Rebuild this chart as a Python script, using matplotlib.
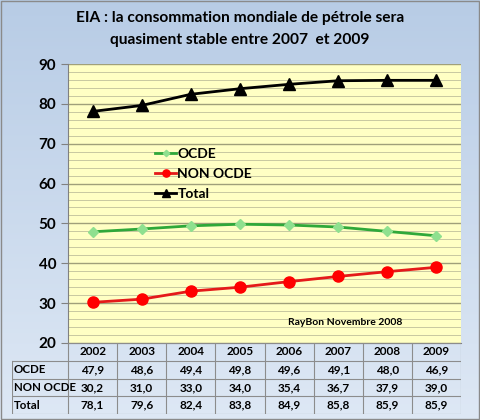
import matplotlib
matplotlib.use('Agg')
import matplotlib.pyplot as plt
import numpy as np

plt.rcParams['font.family'] = ['Lato', 'DejaVu Sans']

years = ['2002', '2003', '2004', '2005', '2006', '2007', '2008', '2009']
ocde = [47.9, 48.6, 49.4, 49.8, 49.6, 49.1, 48.0, 46.9]
non_ocde = [30.2, 31.0, 33.0, 34.0, 35.4, 36.7, 37.9, 39.0]
total = [78.1, 79.6, 82.4, 83.8, 84.9, 85.8, 85.9, 85.9]
row_names = ['OCDE', 'NON OCDE', 'Total']

W, H = 480, 420
fig = plt.figure(figsize=(W / 100, H / 100), dpi=100)

# background gradient
bg = fig.add_axes([0, 0, 1, 1], zorder=-10)
grad = np.linspace(0, 1, 256).reshape(-1, 1)
top_c = np.array([0.72, 0.80, 0.90])
bot_c = np.array([0.87, 0.91, 0.96])
img = top_c + (bot_c - top_c) * grad[..., None]
bg.imshow(img, aspect='auto', extent=[0, 1, 0, 1])
bg.add_patch(plt.Rectangle((0.002, 0.002), 0.996, 0.995, fill=False,
                           edgecolor='#8a8a8a', linewidth=1))
bg.set_xlim(0, 1)
bg.set_ylim(0, 1)
bg.axis('off')

# main plot area
x0, x1 = 68, 461
y_top, y_bot = 64, 343
ax = fig.add_axes([x0 / W, 1 - y_bot / H, (x1 - x0) / W, (y_bot - y_top) / H])
ax.set_facecolor('#ffffc4')
x = np.arange(len(years))

ax.plot(x, ocde, '-D', color='#2fa83a', markerfacecolor='#8fe08f',
        markeredgecolor='#8fe08f', markersize=5, linewidth=2, label='OCDE')
ax.plot(x, non_ocde, '-o', color='#e41a1a', markerfacecolor='#ff0000',
        markeredgecolor='#ff0000', markersize=8, linewidth=2, label='NON OCDE')
ax.plot(x, total, '-^', color='black', markersize=8, linewidth=2, label='Total')

ax.set_xlim(-0.5, len(years) - 0.5)
ax.set_ylim(20, 90)
ax.set_yticks(range(20, 91, 10))
ax.set_yticks(range(20, 91, 2), minor=True)
ax.grid(axis='y', which='major', color='#a0a07a', linewidth=1)
ax.grid(axis='y', which='minor', color='#c8c8a0', linewidth=0.7)
ax.set_axisbelow(True)
ax.set_xticks([])
ax.tick_params(axis='y', which='major', labelsize=11, length=5, color='#808080')
ax.tick_params(axis='y', which='minor', length=0)
for lab in ax.get_yticklabels():
    lab.set_fontweight('bold')
for s in ['top', 'right']:
    ax.spines[s].set_visible(False)
ax.spines['left'].set_color('#808080')
ax.spines['bottom'].set_color('#808080')

leg = ax.legend(loc='upper left', bbox_to_anchor=(0.19, 0.745), frameon=False,
                fontsize=10, handlelength=1.5, handletextpad=0.1,
                labelspacing=0.6, markerscale=0.65)
for t in leg.get_texts():
    t.set_fontweight('bold')

ax.text(0.705, 0.072, 'RayBon Novembre 2008', transform=ax.transAxes,
        ha='center', va='center', fontsize=7.5, fontweight='bold')

# data table
t_left, t_bot = 12, 414
tab = fig.add_axes([t_left / W, 1 - t_bot / H, (x1 - t_left) / W, (t_bot - y_bot) / H])
tab.set_xlim(t_left, x1)
tab.set_ylim(t_bot, y_bot)
tab.axis('off')
col_w = (x1 - x0) / len(years)
row_h = (t_bot - y_bot) / 4
lc = '#8c8c8c'
# horizontal lines
for r in range(1, 5):
    yy = y_bot + r * row_h
    tab.plot([t_left, x1], [yy, yy], color=lc, linewidth=0.8)
tab.plot([x0, x1], [y_bot, y_bot], color=lc, linewidth=0.8)
# vertical lines
tab.plot([t_left, t_left], [y_bot + row_h, t_bot], color=lc, linewidth=0.8)
for c in range(len(years) + 1):
    xx = x0 + c * col_w
    tab.plot([xx, xx], [y_bot, t_bot], color=lc, linewidth=0.8)

for c, yr in enumerate(years):
    tab.text(x0 + (c + 0.5) * col_w, y_bot + 0.5 * row_h, yr, ha='center',
             va='center', fontsize=8.5, fontweight='bold')
for r, (name, vals) in enumerate(zip(row_names, [ocde, non_ocde, total])):
    yc = y_bot + (r + 1.5) * row_h
    tab.text(t_left + 2, yc, name, ha='left', va='center', fontsize=8.3,
             fontweight='bold')
    for c, v in enumerate(vals):
        tab.text(x0 + (c + 0.5) * col_w, yc, f'{v:.1f}'.replace('.', ','),
                 ha='center', va='center', fontsize=8.5, fontweight='bold')

fig.text(0.5, 1 - 18 / H, 'EIA : la consommation mondiale de pétrole sera',
         ha='center', va='center', fontsize=11.2, fontweight='bold')
fig.text(0.5, 1 - 40 / H, 'quasiment stable entre 2007  et 2009',
         ha='center', va='center', fontsize=11.2, fontweight='bold')

fig.savefig('out.png', dpi=100)
